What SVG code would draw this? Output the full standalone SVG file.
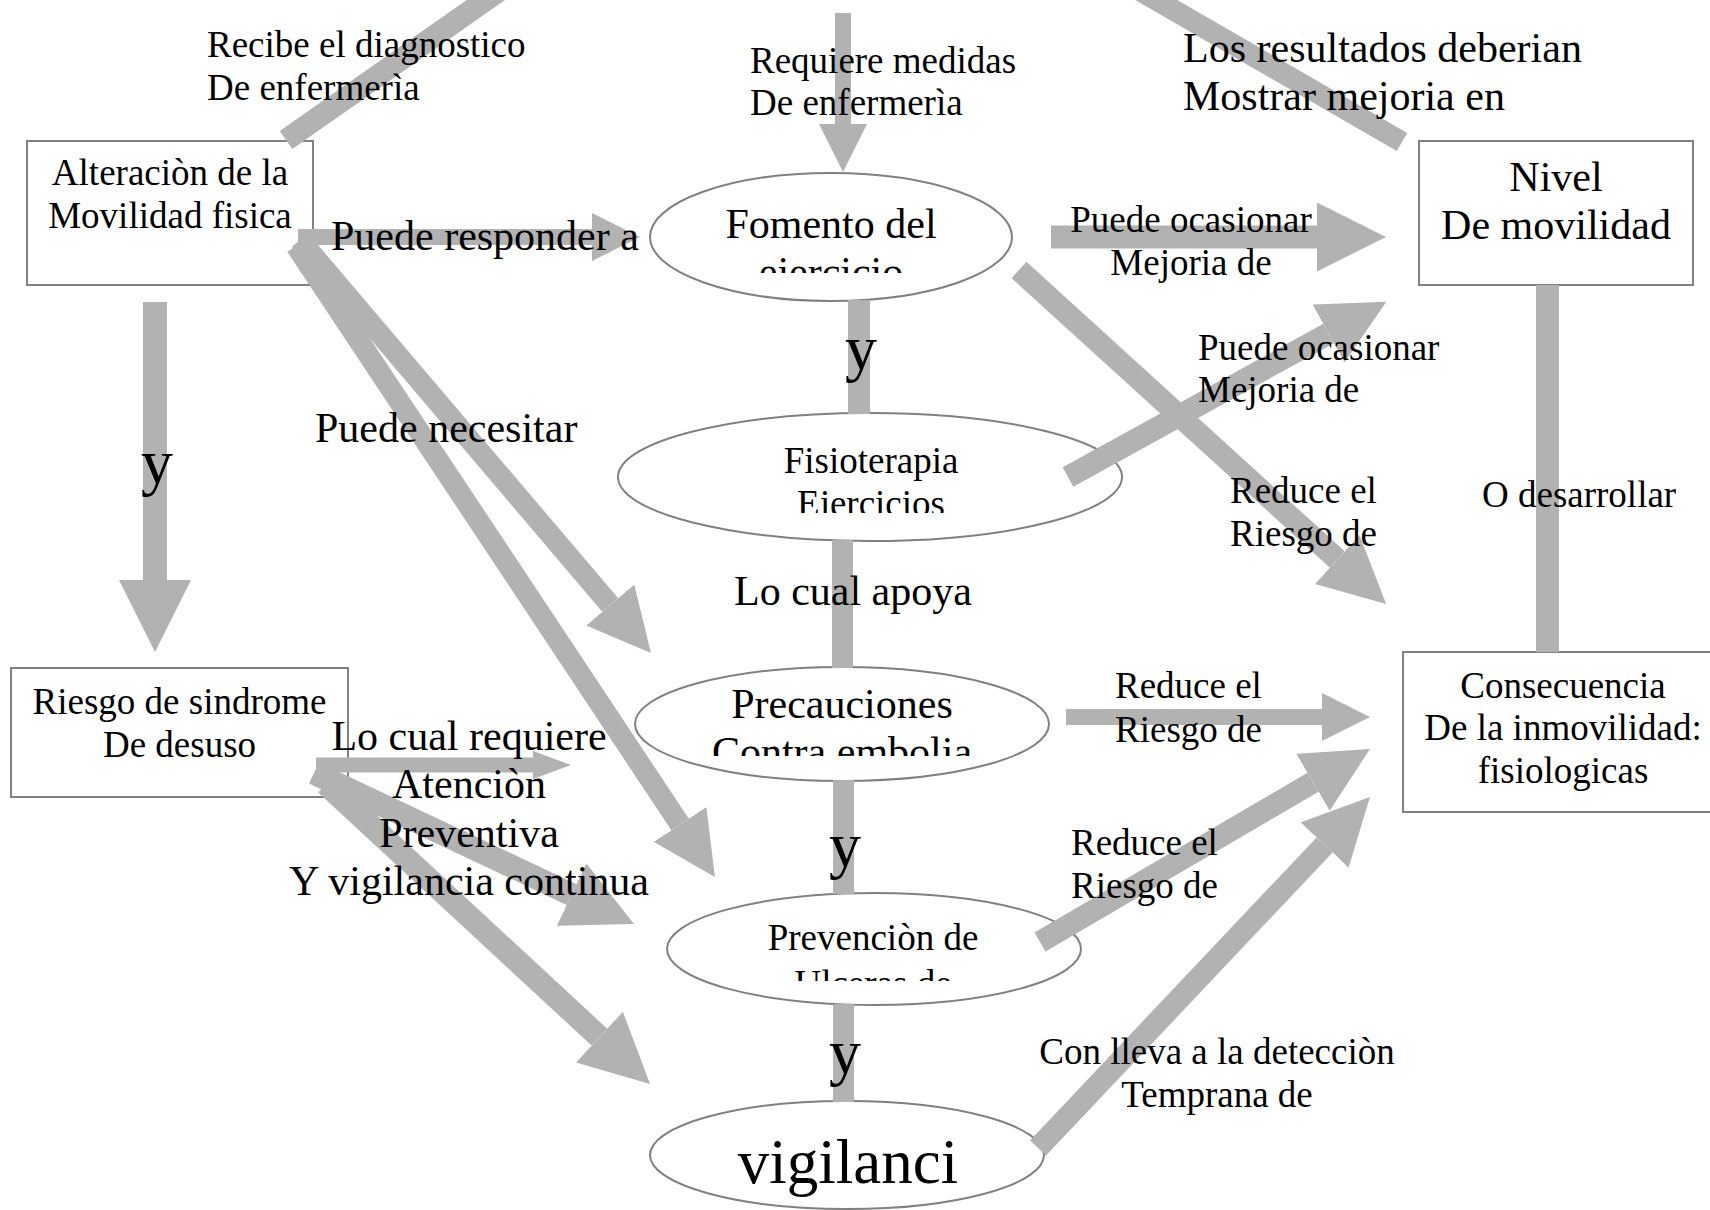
<svg xmlns="http://www.w3.org/2000/svg" width="1710" height="1210" viewBox="0 0 1710 1210">
<style>
text{font-family:"Liberation Serif","Times New Roman",serif;fill:#000}
.s{font-size:37px}
.m{font-size:42px}
.y{font-size:64px}
.v{font-size:63px}
.c{text-anchor:middle}
.box{fill:#fff;stroke:#808080;stroke-width:2}
.ell{fill:#fff;stroke:#808080;stroke-width:2}
.conn line{stroke:#b2b2b2;fill:none}
.head{fill:#b2b2b2}
</style>
<defs>
<marker id="ah" markerUnits="strokeWidth" markerWidth="3" markerHeight="3" viewBox="0 0 3 3" refX="0" refY="1.5" orient="auto">
<path d="M0,0 L3,1.5 L0,3 z" fill="#b2b2b2"/>
</marker>
<clipPath id="cp1"><rect x="650" y="180" width="362" height="93"/></clipPath>
<clipPath id="cp2"><rect x="618" y="420" width="504" height="93"/></clipPath>
<clipPath id="cp3"><rect x="635" y="670" width="414" height="86"/></clipPath>
<clipPath id="cp4"><rect x="667" y="900" width="414" height="81"/></clipPath>
</defs>

<!-- nodes (shapes) -->
<g id="n-alteracion"><rect class="box" x="27" y="141" width="286" height="144"/></g>
<g id="n-nivel"><rect class="box" x="1419" y="141" width="274" height="144"/></g>
<g id="n-riesgo"><rect class="box" x="11" y="668" width="337" height="129"/></g>
<g id="n-consecuencia"><rect class="box" x="1403" y="652" width="312" height="160"/></g>
<g id="n-fomento"><ellipse class="ell" cx="831" cy="237" rx="181" ry="64"/></g>
<g id="n-fisioterapia"><ellipse class="ell" cx="870" cy="477" rx="252" ry="64"/></g>
<g id="n-precauciones"><ellipse class="ell" cx="842" cy="724" rx="207" ry="57"/></g>
<g id="n-prevencion"><ellipse class="ell" cx="874" cy="949" rx="207" ry="56"/></g>
<g id="n-vigilancia"><ellipse class="ell" cx="847" cy="1155" rx="197" ry="54"/></g>

<g id="connectors" class="conn">
<line x1="286" y1="140" x2="543" y2="-40" stroke-width="22"/>
<line x1="1402" y1="142" x2="1087" y2="-40" stroke-width="21"/>
<line x1="843" y1="13" x2="843" y2="124" stroke-width="16" marker-end="url(#ah)"/>
<line x1="155" y1="302" x2="155" y2="580" stroke-width="24" marker-end="url(#ah)"/>
<line x1="298" y1="237" x2="592" y2="237" stroke-width="16" marker-end="url(#ah)"/>
<line x1="300" y1="240" x2="610.2" y2="605" stroke-width="21" marker-end="url(#ah)"/>
<line x1="296" y1="246" x2="680.1" y2="824.5" stroke-width="21" marker-end="url(#ah)"/>
<line x1="316" y1="765" x2="534" y2="765" stroke-width="15"/>
<polygon class="head" points="533,751 571,765 533,779"/>
<line x1="314" y1="773" x2="571.6" y2="894.6" stroke-width="23" marker-end="url(#ah)"/>
<line x1="326" y1="784" x2="599.4" y2="1037.1" stroke-width="23" marker-end="url(#ah)"/>
<line x1="1051" y1="237" x2="1317" y2="237" stroke-width="23" marker-end="url(#ah)"/>
<line x1="1068" y1="477" x2="1328.6" y2="333.5" stroke-width="22" marker-end="url(#ah)"/>
<line x1="1019" y1="270" x2="1337.3" y2="559.5" stroke-width="22" marker-end="url(#ah)"/>
<line x1="1066" y1="717" x2="1322" y2="717" stroke-width="16" marker-end="url(#ah)"/>
<line x1="1040" y1="942" x2="1313" y2="782.3" stroke-width="22" marker-end="url(#ah)"/>
<line x1="1038" y1="1148" x2="1324.6" y2="845" stroke-width="22" marker-end="url(#ah)"/>
<line x1="1547.5" y1="285" x2="1547.5" y2="652" stroke-width="23"/>
<line x1="859" y1="300" x2="859" y2="414" stroke-width="22"/>
<line x1="842.5" y1="540" x2="842.5" y2="668" stroke-width="21"/>
<line x1="843.5" y1="780" x2="843.5" y2="894" stroke-width="21"/>
<line x1="843.5" y1="1004" x2="843.5" y2="1102" stroke-width="21"/>
</g>

<!-- node texts -->
<g id="t-alteracion"><text class="s c" x="170" y="185">Alteraciòn de la</text><text class="s c" x="170" y="228">Movilidad fisica</text></g>
<g id="t-nivel"><text class="m c" x="1556" y="191">Nivel</text><text class="m c" x="1556" y="239">De movilidad</text></g>
<g id="t-riesgo"><text class="s c" x="179.5" y="714">Riesgo de sindrome</text><text class="s c" x="179.5" y="757">De desuso</text></g>
<g id="t-consecuencia"><text class="s c" x="1563" y="698">Consecuencia</text><text class="s c" x="1563" y="740">De la inmovilidad:</text><text class="s c" x="1563" y="783">fisiologicas</text></g>
<g id="t-fomento" clip-path="url(#cp1)"><text class="m c" x="831" y="238">Fomento del</text><text class="m c" x="831" y="286">ejercicio</text></g>
<g id="t-fisioterapia" clip-path="url(#cp2)"><text class="s c" x="871" y="473">Fisioterapia</text><text class="s c" x="871" y="516">Ejercicios</text></g>
<g id="t-precauciones" clip-path="url(#cp3)"><text class="m c" x="842" y="718">Precauciones</text><text class="m c" x="842" y="766">Contra embolia</text></g>
<g id="t-prevencion" clip-path="url(#cp4)"><text class="s c" x="873" y="950">Prevenciòn de</text><text class="s c" x="873" y="996">Ulceras de</text></g>
<g id="t-vigilancia"><text class="v c" x="848" y="1183">vigilanci</text></g>

<!-- connector labels -->
<g id="labels">
<text class="s" x="207" y="57">Recibe el diagnostico</text>
<text class="s" x="207" y="100">De enfermerìa</text>
<text class="s" x="750" y="73">Requiere medidas</text>
<text class="s" x="750" y="115">De enfermerìa</text>
<text class="m" x="1183" y="62">Los resultados deberian</text>
<text class="m" x="1183" y="110">Mostrar mejoria en</text>
<text class="m" x="331" y="250">Puede responder a</text>
<text class="m" x="315" y="442">Puede necesitar</text>
<text class="m" x="734" y="605">Lo cual apoya</text>
<text class="m c" x="469" y="750">Lo cual requiere</text>
<text class="m c" x="469" y="798">Atenciòn</text>
<text class="m c" x="469" y="847">Preventiva</text>
<text class="m c" x="469" y="895">Y vigilancia continua</text>
<text class="s c" x="1191" y="232">Puede ocasionar</text>
<text class="s c" x="1191" y="275">Mejoria de</text>
<text class="s" x="1198" y="360">Puede ocasionar</text>
<text class="s" x="1198" y="402">Mejoria de</text>
<text class="s" x="1230" y="503">Reduce el</text>
<text class="s" x="1230" y="546">Riesgo de</text>
<text class="s" x="1482" y="507">O desarrollar</text>
<text class="s" x="1115" y="698">Reduce el</text>
<text class="s" x="1115" y="742">Riesgo de</text>
<text class="s" x="1071" y="855">Reduce el</text>
<text class="s" x="1071" y="898">Riesgo de</text>
<text class="s c" x="1217" y="1064">Con lleva a la detecciòn</text>
<text class="s c" x="1217" y="1107">Temprana de</text>
<text class="y c" x="157" y="483">y</text>
<text class="y c" x="861" y="369">y</text>
<text class="y c" x="845" y="866">y</text>
<text class="y c" x="845" y="1073">y</text>
</g>
</svg>
